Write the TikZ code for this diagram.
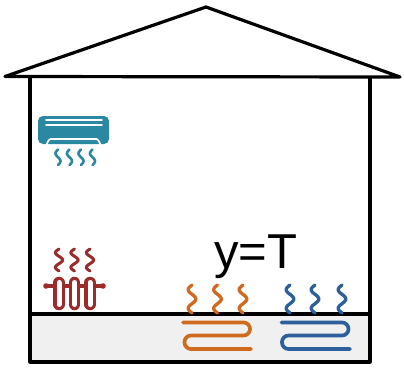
\documentclass[tikz,border=0pt]{standalone}
\usepackage{fontspec}
\setmainfont{Liberation Sans}
\definecolor{acteal}{HTML}{2A88A2}
\definecolor{radred}{HTML}{9C2B2B}
\definecolor{heatorange}{HTML}{D06A1E}
\definecolor{heatblue}{HTML}{2D5F9C}
\definecolor{floorgray}{HTML}{F0F0F0}
% wavy steam line: x, top y, height, amplitude, periods, style
\newcommand{\wavyline}[6]{%
  \draw[#6] plot[domain=0:#5*360, samples=60, smooth, variable=\t]
    ({#1-#4*sin(\t)}, {#2+\t/(#5*360)*#3});}
\begin{document}
\begin{tikzpicture}[x=1pt, y=-1pt, line join=round,
    house/.style={line width=3.2pt, black},
    steam/.style={line width=#1, line cap=round},
    coil/.style={line width=3.7pt, line cap=round, rounded corners=6.5pt}]
\useasboundingbox (0,0) rectangle (404,367);

% floor slab
\fill[floorgray] (30,314) rectangle (370,362);

% house outline
\draw[house] (5,76.5) -- (206,7) -- (400,77) -- cycle;
\draw[house] (30,77) -- (30,362) -- (370,362) -- (370,77);
\draw[house] (30,314) -- (370,314);

% air conditioner
\fill[acteal, rounded corners=5pt] (38,116) rectangle (109,144);
\draw[white, line width=1.8pt, line cap=round] (46,120) -- (102,120);
\draw[white, line width=1.8pt, line cap=round] (46,125) -- (102,125);
\draw[white, line width=1.7pt] (46,145) to[out=-90,in=180] (50.5,139) -- (96.5,139) to[out=0,in=-90] (101,145);
\foreach \cx in {58,69.5,81,92.5}
  \wavyline{\cx}{149.5}{15.5}{2.5}{1}{acteal, steam=2.6pt};

% radiator
\draw[radred, line width=3.2pt, line cap=round] (47,286) -- (102,286);
\fill[radred] (46,286) circle (2.8);
\fill[radred] (103,286) circle (2.8);
\foreach \cx in {59,74.5,90} {
  \draw[radred, line width=11.5pt, line cap=round] (\cx,282.5) -- (\cx,304.5);
  \draw[white, line width=5pt, line cap=round] (\cx,282.5) -- (\cx,304.5);
  \wavyline{\cx}{249}{22}{3.6}{1.5}{radred, steam=3pt};
}

% floor heating, orange loop
\foreach \cx in {192,217.5,243}
  \wavyline{\cx}{285}{28}{3.8}{1.5}{heatorange, steam=3.3pt};
\draw[heatorange, coil] (183,322.5) -- (250,322.5) -- (250,335.5) -- (184.5,335.5) -- (184.5,349) -- (251,349);

% floor heating, blue loop
\foreach \cx in {290,315,342}
  \wavyline{\cx}{285}{28}{3.8}{1.5}{heatblue, steam=3.3pt};
\draw[heatblue, coil] (281.5,322.5) -- (348.5,322.5) -- (348.5,335.5) -- (282,335.5) -- (282,349) -- (350,349);

% label
\node[anchor=base west, inner sep=0pt, font=\fontsize{49}{49}\selectfont] (lbl) at (214,268) {y=T};
\end{tikzpicture}
\end{document}
